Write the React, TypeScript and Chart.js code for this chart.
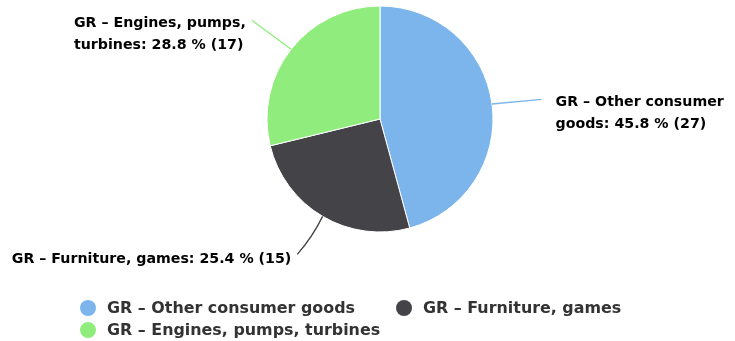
import React, { useEffect, useRef } from "react";
import { Chart, registerables } from "chart.js";

Chart.register(...registerables);

// ---- data ----
const categories = [
  "GR – Other consumer goods",
  "GR – Furniture, games",
  "GR – Engines, pumps, turbines",
];
const counts = [27, 15, 17];
const colors = ["#7cb5ec", "#434348", "#90ed7d"];
const labelWrapWidths = [190, 400, 190];

const FONT = '"DejaVu Sans", "Lucida Grande", Verdana, sans-serif';
const LABEL_FONT = `bold 14.2px ${FONT}`;
const LEGEND_FONT = `bold 15.9px ${FONT}`;

function wrapText(ctx: CanvasRenderingContext2D, text: string, maxW: number): string[] {
  const words = text.split(" ");
  const lines: string[] = [];
  let cur = "";
  for (const w of words) {
    const test = cur ? cur + " " + w : w;
    if (ctx.measureText(test).width > maxW && cur) {
      lines.push(cur);
      cur = w;
    } else {
      cur = test;
    }
  }
  if (cur) lines.push(cur);
  return lines;
}

const labelsPlugin = {
  id: "hcDataLabels",
  afterDraw(chart: any) {
    const ctx: CanvasRenderingContext2D = chart.ctx;
    const meta = chart.getDatasetMeta(0);
    const data: number[] = chart.data.datasets[0].data;
    const total = data.reduce((a, b) => a + b, 0);
    meta.data.forEach((arc: any, i: number) => {
      const { x, y, startAngle, endAngle, outerRadius } = arc.getProps(
        ["x", "y", "startAngle", "endAngle", "outerRadius"],
        true
      );
      const mid = (startAngle + endAngle) / 2;
      const dx = Math.cos(mid);
      const dy = Math.sin(mid);
      const ex = x + dx * outerRadius;
      const ey = y + dy * outerRadius;
      const L = 50;
      const cx = ex + dx * L;
      const cy = ey + dy * L;

      const pct = ((data[i] / total) * 100).toFixed(1);
      const text = `${chart.data.labels[i]}: ${pct} % (${data[i]})`;
      ctx.save();
      ctx.font = LABEL_FONT;
      const lines = wrapText(ctx, text, labelWrapWidths[i]);
      const multi = lines.length > 1;

      ctx.strokeStyle = colors[i];
      ctx.lineWidth = 1.3;
      ctx.beginPath();
      ctx.moveTo(ex, ey);
      if (multi) {
        ctx.lineTo(cx, cy + 2);
      } else {
        const endY = cy - 5;
        const mx = (ex + cx) / 2 - dy * 3 * Math.sign(dx || 1);
        const my = (ey + endY) / 2 + dx * 3 * Math.sign(dx || 1);
        ctx.quadraticCurveTo(mx, my, cx, endY);
      }
      ctx.stroke();

      const blockW = Math.max(...lines.map((l) => ctx.measureText(l).width));
      const left = dx >= 0 ? cx + 14 : cx - 6 - blockW;
      const lineH = 21.5;
      const firstY = multi ? cy + 5 : cy;
      ctx.fillStyle = "#000000";
      ctx.textBaseline = "middle";
      ctx.textAlign = "left";
      lines.forEach((ln, k) => ctx.fillText(ln, left, firstY + k * lineH));
      ctx.restore();
    });
  },
};

const legendPlugin = {
  id: "hcLegend",
  afterDraw(chart: any) {
    const ctx: CanvasRenderingContext2D = chart.ctx;
    const labels: string[] = chart.data.labels;
    ctx.save();
    ctx.font = LEGEND_FONT;
    const symR = 8;
    const symGap = 11;
    const itemDist = 41;
    const maxRowW = 560;
    const legendLeft = 80;
    const rowTop = 308;
    const rowH = 22;
    let px = legendLeft;
    let row = 0;
    labels.forEach((lab, i) => {
      const tw = ctx.measureText(lab).width;
      const itemW = symR * 2 + symGap + tw;
      if (px > legendLeft && px + itemW - legendLeft > maxRowW) {
        row += 1;
        px = legendLeft;
      }
      const cy = rowTop + row * rowH;
      ctx.fillStyle = colors[i];
      ctx.beginPath();
      ctx.arc(px + symR, cy, symR, 0, Math.PI * 2);
      ctx.fill();
      ctx.fillStyle = "#333333";
      ctx.textBaseline = "middle";
      ctx.textAlign = "left";
      ctx.fillText(lab, px + symR * 2 + symGap, cy + 1);
      px += itemW + itemDist;
    });
    ctx.restore();
  },
};

export default function App() {
  const ref = useRef<HTMLCanvasElement | null>(null);
  useEffect(() => {
    if (!ref.current) return;
    const chart = new Chart(ref.current, {
      type: "pie",
      data: {
        labels: categories,
        datasets: [
          {
            data: counts,
            backgroundColor: colors,
            borderColor: "#ffffff",
            borderWidth: 1,
          },
        ],
      },
      options: {
        animation: false,
        responsive: false,
        radius: 113,
        layout: { padding: { left: 25, right: 0, top: 0, bottom: 103 } },
        plugins: {
          legend: { display: false },
          tooltip: { enabled: false },
        },
      } as any,
      plugins: [labelsPlugin, legendPlugin],
    });
    return () => chart.destroy();
  }, []);
  return (
    <div style={{ position: "fixed", left: 0, top: 0, width: 735, height: 341, background: "#fff" }}>
      <canvas ref={ref} width={735} height={341} />
    </div>
  );
}
